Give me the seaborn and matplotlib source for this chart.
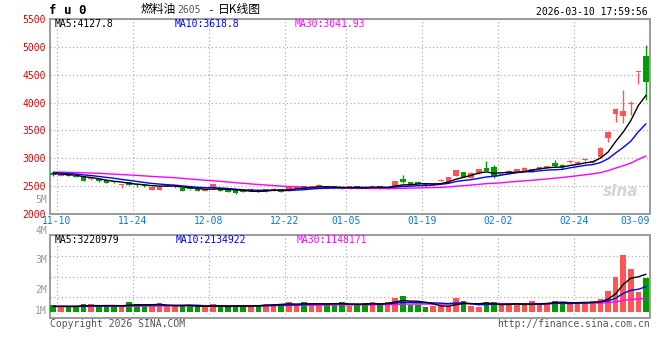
import numpy as np
import pandas as pd
import matplotlib
matplotlib.use("Agg")
import matplotlib.pyplot as plt
import seaborn as sns

# daily K data, 2025-11-07 .. 2026-03-09
opens = [2735, 2690, 2695, 2690, 2680, 2625, 2627, 2609, 2580, 2520,
         2573, 2520, 2505, 2430, 2432, 2500, 2505, 2470, 2445, 2440,
         2420, 2460, 2460, 2440, 2430, 2412, 2438, 2414, 2422, 2426,
         2442, 2424, 2472, 2500, 2472, 2494, 2500, 2500, 2488, 2478,
         2500, 2480, 2472, 2500, 2466, 2489, 2626, 2573, 2578, 2550,
         2519, 2600, 2578, 2680, 2747, 2650, 2730, 2830, 2840, 2700,
         2720, 2757, 2770, 2757, 2800, 2830, 2913, 2878, 2935, 2900,
         2965, 2925, 3020, 3360, 3790, 3755, 3980, 4540, 4828]
highs = [2745, 2705, 2700, 2695, 2685, 2645, 2632, 2612, 2585, 2540,
         2578, 2530, 2512, 2492, 2494, 2525, 2522, 2474, 2452, 2446,
         2448, 2535, 2465, 2445, 2435, 2418, 2471, 2420, 2445, 2458,
         2446, 2494, 2503, 2505, 2503, 2530, 2503, 2503, 2492, 2500,
         2503, 2485, 2515, 2505, 2480, 2600, 2698, 2580, 2585, 2556,
         2565, 2625, 2668, 2796, 2752, 2745, 2815, 2950, 2875, 2730,
         2785, 2815, 2835, 2805, 2845, 2865, 2965, 2900, 2975, 2955,
         3010, 2970, 3205, 3490, 3895, 4220, 4025, 4555, 5025]
lows = [2688, 2680, 2678, 2660, 2590, 2605, 2580, 2548, 2562, 2460,
        2515, 2490, 2488, 2425, 2428, 2495, 2462, 2405, 2432, 2408,
        2415, 2455, 2412, 2395, 2365, 2395, 2413, 2392, 2395, 2420,
        2390, 2420, 2468, 2468, 2468, 2466, 2470, 2468, 2440, 2455,
        2468, 2458, 2468, 2455, 2455, 2485, 2565, 2512, 2530, 2495,
        2512, 2590, 2572, 2675, 2660, 2645, 2725, 2765, 2650, 2695,
        2715, 2750, 2765, 2750, 2795, 2825, 2845, 2812, 2920, 2895,
        2955, 2920, 3015, 3300, 3650, 3630, 3770, 4340, 4053]
closes = [2695, 2697, 2685, 2668, 2596, 2632, 2585, 2555, 2570, 2525,
          2520, 2512, 2495, 2488, 2489, 2520, 2510, 2412, 2440, 2415,
          2440, 2530, 2420, 2400, 2375, 2402, 2444, 2404, 2428, 2452,
          2396, 2490, 2500, 2472, 2500, 2500, 2474, 2474, 2445, 2484,
          2474, 2462, 2510, 2460, 2472, 2596, 2573, 2519, 2537, 2501,
          2560, 2610, 2662, 2790, 2670, 2740, 2810, 2770, 2660, 2720,
          2780, 2810, 2830, 2800, 2840, 2860, 2870, 2840, 2943, 2940,
          2995, 2960, 3180, 3474, 3884, 3850, 3990, 4545, 4370]
# volume, millions of lots
vols = [0.57, 0.46, 0.40, 0.45, 0.66, 0.66, 0.42, 0.45, 0.45, 0.57,
        0.83, 0.66, 0.46, 0.46, 0.75, 0.46, 0.46, 0.46, 0.57, 0.40,
        0.40, 0.62, 0.40, 0.40, 0.57, 0.46, 0.57, 0.55, 0.66, 0.69,
        0.66, 0.80, 0.45, 0.80, 0.69, 0.69, 0.69, 0.57, 0.83, 0.45,
        0.60, 0.75, 0.80, 0.66, 0.80, 1.18, 1.35, 0.57, 0.57, 0.40,
        0.50, 0.46, 0.46, 1.18, 0.92, 0.45, 0.40, 0.80, 0.80, 0.57,
        0.57, 0.57, 0.57, 0.90, 0.75, 0.75, 0.92, 0.80, 0.66, 0.75,
        0.86, 0.92, 1.09, 1.78, 3.02, 4.89, 3.68, 1.70, 2.90]
# sessions before the window, only feed the moving averages
prior_close = [2740, 2765, 2780, 2750, 2735, 2760, 2790, 2770, 2745, 2725,
               2750, 2775, 2760, 2740, 2730, 2755, 2770, 2785, 2760, 2745,
               2770, 2780, 2760, 2755, 2740, 2750, 2725, 2720, 2735]
prior_vol = [0.45, 0.40, 0.48, 0.42, 0.46, 0.40, 0.44, 0.47, 0.41, 0.43,
             0.45, 0.42, 0.40, 0.46, 0.44, 0.41, 0.43, 0.45, 0.42, 0.44,
             0.40, 0.46, 0.43, 0.41, 0.45, 0.44, 0.42, 0.46, 0.43]

grid_idx = [1, 11, 21, 31, 39, 49, 59, 69]
date_labels = ["11-10", "11-24", "12-08", "12-22", "01-05", "01-19", "02-02", "02-24"]
last_label = "03-09"
price_ticks = [2000, 2500, 3000, 3500, 4000, 4500, 5000, 5500]

df = pd.DataFrame({"x": np.arange(len(closes)), "open": opens, "high": highs,
                   "low": lows, "close": closes, "vol": vols})
df["up"] = df["close"] >= df["open"]
allc = pd.Series(prior_close + closes, dtype=float)
allv = pd.Series(prior_vol + vols, dtype=float)
n0 = len(prior_close)
for n in (5, 10, 30):
    df[f"ma{n}"] = allc.rolling(n).mean().iloc[n0:].to_numpy()
    df[f"vma{n}"] = allv.rolling(n).mean().iloc[n0:].to_numpy()

sns.set_style("white")
plt.rcParams["font.family"] = ["DejaVu Sans Mono", "Noto Sans CJK SC"]

RED = "#ff5454"
GREEN = "#009c00"
GRID = "#b0b0b0"
FRAME = "#9a9a9a"
W, H = 660, 360


def box(x0, y0, x1, y1):
    return [x0 / W, 1 - y1 / H, (x1 - x0) / W, (y1 - y0) / H]


def ptext(x, y, s, **kw):
    kw.setdefault("va", "center")
    kw.setdefault("fontsize", 7)
    fig.text(x / W, 1 - y / H, s, **kw)


fig = plt.figure(figsize=(6.6, 3.6), dpi=100)
ax = fig.add_axes(box(50, 19, 650, 214))
axv = fig.add_axes(box(50, 235, 650, 318))

cols = np.where(df["up"], RED, GREEN)

# candles
body_lo = np.minimum(df["open"], df["close"])
body_h = np.maximum((df["close"] - df["open"]).abs(), 18)
ax.vlines(df["x"], df["low"], df["high"], colors=cols, lw=1, zorder=3)
ax.bar(df["x"], body_h, bottom=body_lo, width=0.72, color=cols, lw=0, zorder=4)

for col, c in (("ma30", "#ff00ff"), ("ma10", "#0000ff"), ("ma5", "black")):
    sns.lineplot(x=df["x"], y=df[col], ax=ax, color=c, lw=1, legend=False, zorder=5)

ax.set_xlim(-0.42, 78.53)
ax.set_ylim(2000, 5500)
ax.set_yticks(price_ticks)
ax.set_yticklabels([str(t) for t in price_ticks], color="#dd0000", fontsize=7)
ax.set_xticks([i - 0.5 for i in grid_idx])
ax.set_xticklabels([])
ax.tick_params(length=0, pad=3)
ax.grid(True, ls=(0, (1, 2)), color=GRID, lw=0.9)
ax.set_xlabel("")
ax.set_ylabel("")

# volume
axv.bar(df["x"], df["vol"], width=0.72, color=cols, lw=0, zorder=3)
for col, c in (("vma30", "#ff00ff"), ("vma10", "#0000ff"), ("vma5", "black")):
    sns.lineplot(x=df["x"], y=df[col], ax=axv, color=c, lw=1, legend=False, zorder=5)
axv.set_xlim(-0.42, 78.53)
axv.set_ylim(-0.55, 6.63)
axv.set_yticks([1.245, 3.04, 4.835])
axv.set_yticklabels([])
axv.set_xticks([i - 0.5 for i in grid_idx])
axv.set_xticklabels([])
axv.tick_params(length=0)
axv.grid(True, ls=(0, (1, 2)), color=GRID, lw=0.9)
axv.set_xlabel("")
axv.set_ylabel("")

for a in (ax, axv):
    for s in a.spines.values():
        s.set_color(FRAME)
        s.set_linewidth(1.4)

# date labels under the price panel
for i, lab in zip(grid_idx, date_labels):
    ax.text(i - 0.5, -0.035, lab, transform=ax.get_xaxis_transform(),
            ha="center", va="center", fontsize=7, color="#0a78d2")
ax.text(78.5, -0.035, last_label, transform=ax.get_xaxis_transform(),
        ha="right", va="center", fontsize=7, color="#0a78d2")

# header
ptext(49, 11, "f u 0", fontsize=9, fontweight="bold", color="black")
ptext(141, 10, "燃料油", fontsize=8.5, family=["Noto Sans CJK SC"], color="black")
ptext(177, 10, "2605", fontsize=7, color="#555555")
ptext(207, 10, "-", fontsize=8, color="black")
ptext(218, 10, "日K线图", fontsize=8.5, family=["Noto Sans CJK SC", "DejaVu Sans"], color="black")
ptext(648, 12, "2026-03-10 17:59:56", ha="right", color="black")

ptext(55, 24, "MA5:4127.8", color="black")
ptext(175, 24, "MA10:3618.8", color="#0000ff")
ptext(295, 24, "MA30:3041.93", color="#ff00ff")

ptext(55, 240, "MA5:3220979", color="black")
ptext(176, 240, "MA10:2134922", color="#0000ff")
ptext(297, 240, "MA30:1148171", color="#ff00ff")

for lab, yy in (("5M", 200), ("4M", 231), ("3M", 260), ("2M", 290), ("1M", 311)):
    ptext(47, yy, lab, ha="right", color="#9a9a9a")

ptext(638, 192, "sina", ha="right", fontsize=11, fontweight="bold",
      style="italic", family=["DejaVu Sans"], color="#d4d4d4")

ptext(50, 324, "Copyright 2026 SINA.COM", color="#555555")
ptext(650, 324, "http://finance.sina.com.cn", ha="right", color="#555555")

fig.savefig("out.png", dpi=100, facecolor="white")
